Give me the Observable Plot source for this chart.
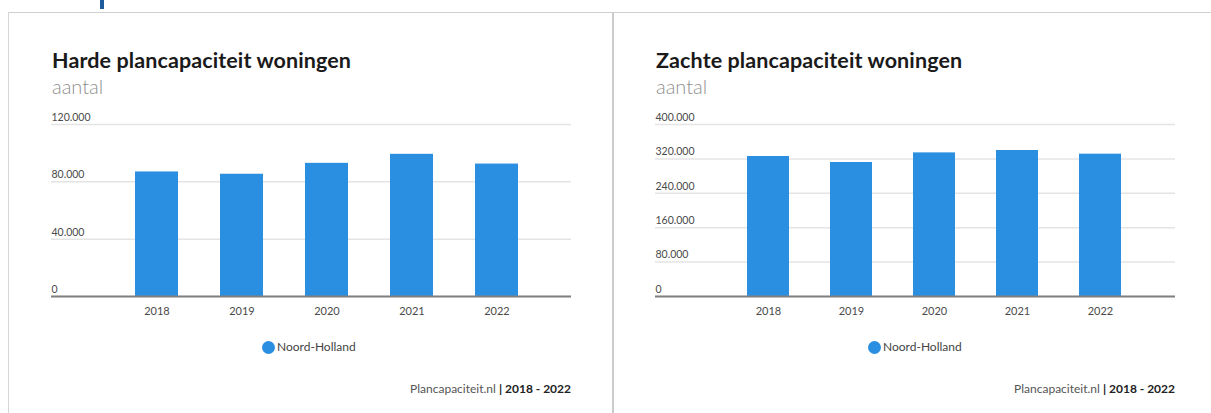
<!DOCTYPE html>
<html>
<head>
<meta charset="utf-8">
<script src="https://cdn.jsdelivr.net/npm/d3@7"></script>
<script src="https://cdn.jsdelivr.net/npm/@observablehq/plot@0.6"></script>
<style>
  html, body { margin: 0; padding: 0; background: #fff; }
  body { width: 1211px; height: 413px; position: relative; overflow: hidden; font-family: Lato, "Open Sans", sans-serif; }
  .abs { position: absolute; }
  .title { font-size: 21.5px; font-weight: 700; color: #1a1a1a; line-height: 22px; white-space: nowrap; letter-spacing: 0.1px; }
  .sub { font-size: 20px; font-weight: 300; color: #8f8f8f; line-height: 20px; }
  .legend { font-size: 12px; color: #444; line-height: 14px; display: flex; align-items: center; white-space: nowrap; }
  .dot { width: 13px; height: 13px; border-radius: 50%; background: #2a8fe0; margin-right: 2px; }
  .caption { font-size: 12px; color: #555; line-height: 14px; white-space: nowrap; text-align: right; }
  .caption b { color: #222; }
</style>
</head>
<body>
<div id="root"></div>
<script>
// ---- data ----
const years = ["2018", "2019", "2020", "2021", "2022"];
const hardeValues = [86900, 85300, 92900, 99200, 92400];
const zachteValues = [325600, 311600, 334000, 339500, 331000];
const hardeTicks = [0, 40000, 80000, 120000];
const zachteTicks = [0, 80000, 160000, 240000, 320000, 400000];
const hardeTitle = "Harde plancapaciteit woningen";
const zachteTitle = "Zachte plancapaciteit woningen";
const subtitle = "aantal";
const seriesName = "Noord-Holland";
const source = "Plancapaciteit.nl";
const period = "2018 - 2022";

const nl = d3.formatLocale({decimal: ",", thousands: ".", grouping: [3], currency: ["€", ""]});
const fmt = nl.format(",d");

const body = document.body;
function el(tag, cls, css, html) {
  const e = document.createElement(tag);
  if (cls) e.className = cls;
  Object.assign(e.style, css);
  if (html != null) e.innerHTML = html;
  body.appendChild(e);
  return e;
}

// frame lines
el("div", "abs", {left: "8px", top: "12px", width: "1203px", height: "1px", background: "#cfcfcf"});
el("div", "abs", {left: "8px", top: "12px", width: "1px", height: "401px", background: "#d6d6d6"});
el("div", "abs", {left: "612px", top: "13px", width: "2px", height: "400px", background: "#cccccc"});
// cut-off page heading above the panels (only a sliver is visible)
el("div", "abs", {left: "100px", top: "0px", width: "4px", height: "9px", background: "#1d5c9c"});

function panel(opts) {
  const {left, titleText, values, ticks, max, range} = opts;
  el("div", "abs title", {left: (left + 52) + "px", top: "49px"}, titleText);
  el("div", "abs sub", {left: (left + 52) + "px", top: "76px"}, subtitle);

  const data = years.map((y, i) => ({year: y, value: values[i]}));
  const chart = Plot.plot({
    width: 600,
    height: 230,
    marginLeft: 51,
    marginRight: 29,
    marginTop: 24,
    marginBottom: 34,
    x: {domain: years, range, paddingInner: 0.5, paddingOuter: 0.25, label: null},
    y: {domain: [0, max], ticks, label: null},
    style: {fontFamily: "Lato, 'Open Sans', sans-serif", fontSize: "10.5px", color: "#555", background: "transparent", overflow: "visible"},
    marks: [
      Plot.gridY(ticks, {stroke: "#e4e4e4", strokeOpacity: 1, strokeWidth: 1.5}),
      Plot.axisY(ticks, {tickSize: 0, tickPadding: 0, textAnchor: "start", dy: -7, tickFormat: fmt, label: null, fill: "#4a4a4a"}),
      Plot.barY(data, {x: "year", y: "value", fill: "#2a8fe0"}),
      Plot.ruleY([0], {stroke: "#808080", strokeWidth: 2}),
      Plot.axisX({tickSize: 0, tickPadding: 11, label: null, fill: "#4a4a4a", fontSize: 11})
    ]
  });
  chart.style.position = "absolute";
  chart.style.left = left + "px";
  chart.style.top = "100px";
  body.appendChild(chart);

  const lg = el("div", "abs legend", {left: (left + opts.legendX) + "px", top: "340px"});
  lg.innerHTML = `<span class="dot"></span><span>${seriesName}</span>`;
  el("div", "abs caption", {left: (left + 371) + "px", top: "382px", width: "200px"},
     `${source} <b>| ${period}</b>`);
}

panel({left: 0, titleText: hardeTitle, values: hardeValues, ticks: hardeTicks, max: 120000, range: [113.5, 538.5], legendX: 262});
panel({left: 604, titleText: zachteTitle, values: zachteValues, ticks: zachteTicks, max: 400000, range: [121.25, 538.75], legendX: 264});
</script>
</body>
</html>
